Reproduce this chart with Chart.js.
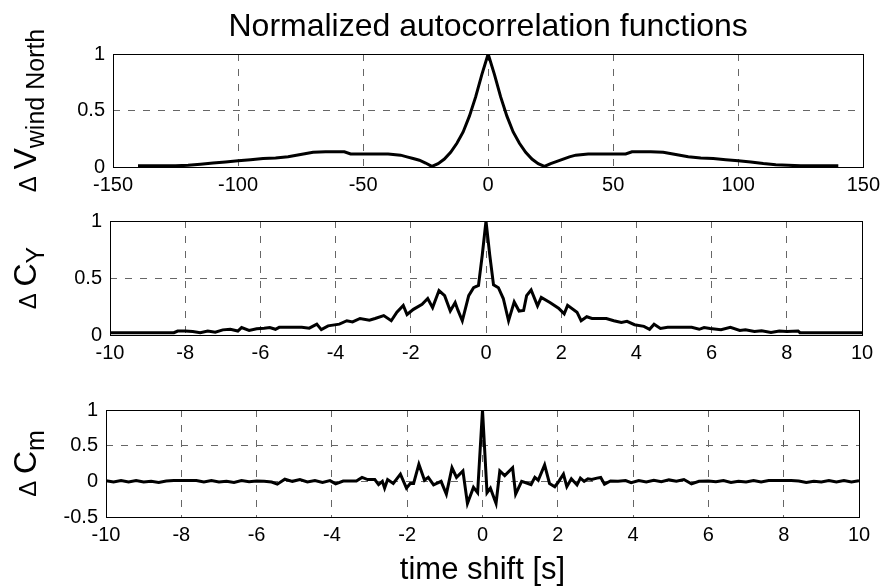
<!DOCTYPE html>
<html>
<head>
<meta charset="utf-8">
<script src="https://cdn.jsdelivr.net/npm/chart.js@4.4.0/dist/chart.umd.min.js"></script>
<style>
  html, body { margin: 0; padding: 0; background: #fff; }
  #wrap { position: relative; width: 886px; height: 588px; overflow: hidden; }
  #wrap canvas { position: absolute; left: 0; }
</style>
</head>
<body>
<div id="wrap">
  <canvas id="c1" width="886" height="200" style="top:0px"></canvas>
  <canvas id="c2" width="886" height="190" style="top:200px"></canvas>
  <canvas id="c3" width="886" height="198" style="top:390px"></canvas>
</div>
<script>
// ---- data ----
const titleText = 'Normalized autocorrelation functions';
const xLabelText = 'time shift [s]';

// wind North, lag in samples
const vnLag = [-140,-135,-130,-125,-120,-115,-110,-105,-100,-95,-90,-85,-80,-75,-70,-65,-60,-57.5,-55,-50,-45,-40,-35,-32.5,-30,-27.5,-25,-22.5,-20,-17.5,-15,-12.5,-10,-7.5,-5,-2.5,
  0,2.5,5,7.5,10,12.5,15,17.5,20,22.5,25,27.5,30,32.5,35,40,45,50,55,57.5,60,65,70,75,80,85,90,95,100,105,110,115,120,125,130,135,140];
const vnAcf = [0.01,0.01,0.01,0.01,0.015,0.025,0.035,0.045,0.055,0.065,0.075,0.08,0.09,0.11,0.13,0.135,0.135,0.135,0.115,0.115,0.115,0.115,0.105,0.09,0.075,0.06,0.035,0.005,0.03,0.07,0.13,0.21,0.31,0.45,0.62,0.82,
  1.0,0.82,0.62,0.45,0.31,0.21,0.13,0.07,0.03,0.005,0.03,0.05,0.07,0.09,0.105,0.115,0.115,0.115,0.115,0.135,0.135,0.135,0.13,0.11,0.09,0.08,0.075,0.065,0.055,0.045,0.03,0.02,0.015,0.01,0.01,0.01,0.01];

// C_Y, lag in seconds
const cyLag = [-10,-9,-8.3,-8.2,-8,-7.8,-7.6,-7.4,-7.2,-7,-6.8,-6.6,-6.5,-6.3,-6.1,-5.9,-5.75,-5.6,-5.5,-4.9,-4.7,-4.5,-4.38,-4.2,-3.9,-3.7,-3.55,-3.35,-3.1,-2.95,-2.72,-2.52,-2.37,-2.2,-2.1,-1.93,-1.7,-1.55,-1.42,-1.25,-1.1,-0.95,-0.82,-0.75,-0.63,-0.46,-0.33,-0.2,-0.1,
  0,0.1,0.2,0.33,0.46,0.6,0.75,0.88,1,1.08,1.2,1.37,1.47,1.7,1.93,2.08,2.17,2.42,2.53,2.68,2.82,3.2,3.4,3.6,3.75,3.95,4.2,4.35,4.47,4.64,4.83,5.47,5.67,5.8,5.96,6.25,6.5,6.75,6.9,7.14,7.33,7.58,7.8,8,8.3,8.35,9,10];
const cyAcf = [0.02,0.02,0.02,0.035,0.035,0.03,0.02,0.035,0.025,0.045,0.05,0.035,0.065,0.04,0.055,0.06,0.065,0.05,0.067,0.067,0.06,0.095,0.047,0.08,0.095,0.125,0.115,0.145,0.13,0.145,0.17,0.125,0.2,0.26,0.18,0.225,0.27,0.32,0.24,0.39,0.345,0.21,0.285,0.22,0.125,0.345,0.415,0.435,0.7,
  1.0,0.7,0.44,0.415,0.32,0.125,0.29,0.21,0.215,0.345,0.395,0.255,0.33,0.285,0.235,0.185,0.26,0.2,0.125,0.16,0.145,0.145,0.125,0.11,0.12,0.09,0.076,0.05,0.095,0.058,0.067,0.067,0.05,0.065,0.057,0.047,0.067,0.04,0.045,0.03,0.038,0.022,0.035,0.03,0.035,0.02,0.02,0.02];

// C_m, lag in seconds
const cmLag = [-10,-9.8,-9.6,-9.4,-9.2,-9,-8.8,-8.6,-8.4,-8.2,-7.6,-7.4,-7.2,-7,-6.8,-6.6,-6.4,-6.2,-6,-5.8,-5.6,-5.45,-5.25,-5.05,-4.85,-4.65,-4.45,-4.25,-4.05,-3.9,-3.7,-3.35,-3.2,-3.05,-2.86,-2.76,-2.66,-2.6,-2.52,-2.37,-2.18,-2.02,-1.92,-1.83,-1.69,-1.54,-1.44,-1.3,-1.1,-0.96,-0.81,-0.69,-0.52,-0.4,-0.24,-0.13,
  0,0.12,0.21,0.36,0.46,0.59,0.8,0.88,1.04,1.29,1.39,1.48,1.65,1.78,1.92,2,2.15,2.24,2.36,2.51,2.6,2.7,2.8,2.9,3.04,3.14,3.24,3.4,3.6,3.8,3.95,4.15,4.35,4.55,4.75,4.95,5.15,5.35,5.55,5.75,6,6.2,6.4,6.6,6.8,7,7.2,7.4,7.6,8.2,8.4,8.6,8.8,9,9.2,9.4,9.6,9.8,10];
const cmAcf = [0.01,-0.01,0.01,-0.01,0.01,-0.01,0,-0.015,0.005,0.01,0.01,-0.01,0.01,-0.01,0,-0.015,0.01,-0.005,0.005,0,-0.01,-0.04,0.03,0,0.025,-0.01,0.01,-0.015,0.01,-0.035,0.005,0.005,0.055,0.025,0.025,-0.045,0,-0.095,0.025,-0.03,0.1,-0.095,-0.03,-0.03,0.24,0.015,0.055,-0.05,0,-0.18,0.19,0.055,0.145,-0.31,-0.085,-0.16,
  1.0,-0.16,-0.095,-0.31,0.145,0.08,0.19,-0.18,0,-0.045,0.055,0.015,0.23,-0.03,-0.075,-0.02,0.1,-0.075,0.035,-0.05,0.045,0,0.035,0.025,0.045,0.055,-0.04,0.005,0,0.01,-0.02,0.01,-0.01,0.015,-0.005,0.02,0,0.025,-0.035,0,0.005,-0.005,0.01,-0.015,0,-0.01,0.01,-0.01,0.01,0.01,0.005,-0.015,0,-0.01,0.01,-0.01,0.01,-0.01,0.01];

const FONT = "'Liberation Sans', Arial, Helvetica, sans-serif";

// box, side label, title and x label, MATLAB style
const framePlugin = {
  id: 'frame',
  afterDraw(chart, args, o) {
    const {ctx, chartArea: a} = chart;
    ctx.save();
    ctx.strokeStyle = '#000';
    ctx.lineWidth = 1;
    ctx.strokeRect(Math.round(a.left) + 0.5, Math.round(a.top) + 0.5,
                   Math.round(a.right - a.left), Math.round(a.bottom - a.top));
    ctx.fillStyle = '#000';

    // rotated y label: delta, big letter, subscript
    const parts = [
      {t: '\u0394 ', f: '24px ' + FONT, dy: 0},
      {t: o.main, f: '32px ' + FONT, dy: 0},
      {t: o.sub, f: '25px ' + FONT, dy: 8}
    ];
    let w = 0;
    parts.forEach(p => { ctx.font = p.f; p.w = ctx.measureText(p.t).width; w += p.w; });
    ctx.translate(o.labelX, (a.top + a.bottom) / 2);
    ctx.rotate(-Math.PI / 2);
    ctx.textBaseline = 'alphabetic';
    ctx.textAlign = 'left';
    let x = -w / 2;
    parts.forEach(p => { ctx.font = p.f; ctx.fillText(p.t, x, p.dy); x += p.w; });
    ctx.restore();

    ctx.save();
    ctx.fillStyle = '#000';
    ctx.textAlign = 'center';
    ctx.textBaseline = 'alphabetic';
    const cx = (a.left + a.right) / 2;
    if (o.title) { ctx.font = '32px ' + FONT; ctx.fillText(o.title, cx, o.titleY); }
    if (o.xlabel) { ctx.font = '31px ' + FONT; ctx.fillText(o.xlabel, cx, o.xlabelY); }
    ctx.restore();
  }
};

function makeChart(id, lags, acf, s) {
  const pts = lags.map((v, i) => ({x: v, y: acf[i]}));
  const grid = {color: '#666', lineWidth: 1, drawTicks: false};
  const border = {display: false, dash: [7, 8]};
  return new Chart(document.getElementById(id).getContext('2d'), {
    type: 'line',
    data: {datasets: [{data: pts, borderColor: '#000', borderWidth: 3, pointRadius: 0, tension: 0, fill: false}]},
    options: {
      responsive: false,
      animation: false,
      layout: {padding: {top: s.top, right: s.right, left: 0, bottom: 0}},
      plugins: {legend: {display: false}, tooltip: {enabled: false}, frame: s.frame},
      scales: {
        x: {
          type: 'linear', min: s.xmin, max: s.xmax,
          ticks: {stepSize: s.xstep, color: '#000', font: {family: FONT, size: 20}, padding: 6, maxRotation: 0, autoSkip: false},
          grid: grid, border: border,
          afterFit: sc => { sc.height = s.xh; }
        },
        y: {
          min: s.ymin, max: s.ymax,
          ticks: {stepSize: 0.5, color: '#000', font: {family: FONT, size: 20}, padding: 8,
                  callback: v => String(v)},
          grid: grid, border: border,
          afterFit: sc => { sc.width = s.yw; }
        }
      }
    },
    plugins: [framePlugin]
  });
}

makeChart('c1', vnLag, vnAcf, {top: 54, right: 20, yw: 113, xh: 33, xmin: -150, xmax: 150, xstep: 50, ymin: 0, ymax: 1,
  frame: {main: 'V', sub: 'wind North', labelX: 36, title: titleText, titleY: 36}});
makeChart('c2', cyLag, cyAcf, {top: 21, right: 24, yw: 110, xh: 55, xmin: -10, xmax: 10, xstep: 2, ymin: 0, ymax: 1,
  frame: {main: 'C', sub: 'Y', labelX: 36}});
makeChart('c3', cmLag, cmAcf, {top: 9, right: 27, yw: 106, xh: 71, xmin: -10, xmax: 10, xstep: 2, ymin: -0.5, ymax: 1,
  frame: {main: 'C', sub: 'm', labelX: 36, xlabel: xLabelText, xlabelY: 189}});
</script>
</body>
</html>
